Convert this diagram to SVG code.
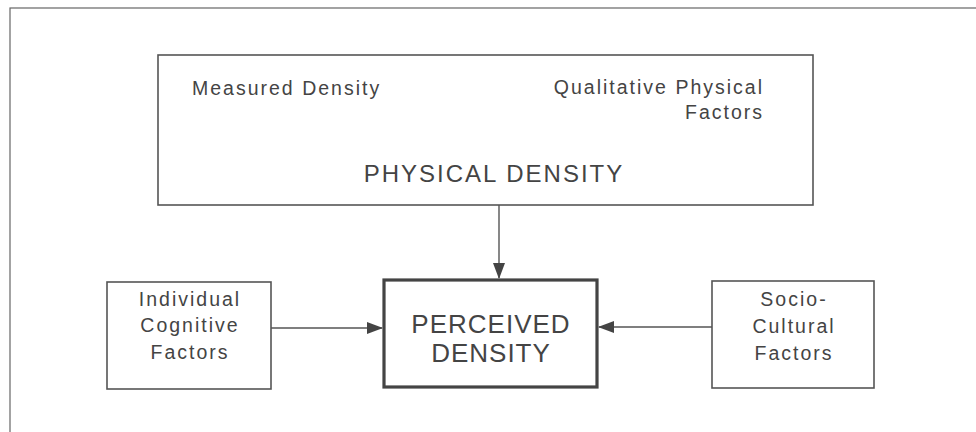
<svg xmlns="http://www.w3.org/2000/svg" width="976" height="432" viewBox="0 0 976 432">
<defs>
<style>
.box{fill:#fff;stroke:#555;stroke-width:1.6}
.bold{fill:#fff;stroke:#444;stroke-width:3.2}
.t{font-family:"Liberation Sans",Arial,sans-serif;fill:#444}
.s{font-size:19.5px;letter-spacing:2px}
.m{font-size:24px;letter-spacing:2px}
.l{font-size:26px;letter-spacing:1px}
.c{stroke:#555;stroke-width:1.4;fill:none}
</style>
<marker id="ah" markerWidth="16" markerHeight="12" refX="15" refY="6" orient="auto" markerUnits="userSpaceOnUse">
<path d="M0,0 L16,6 L0,12 Z" fill="#444"/>
</marker>
</defs>
<rect width="976" height="432" fill="#fff"/>
<rect x="10" y="8" width="1000" height="500" fill="none" stroke="#666" stroke-width="1.2"/>
<g id="physical">
<rect class="box" x="158" y="55" width="655" height="150"/>
<text class="t s" x="192" y="95">Measured Density</text>
<text class="t s" x="764" y="94" text-anchor="end">Qualitative Physical</text>
<text class="t s" x="764" y="119" text-anchor="end">Factors</text>
<text class="t m" x="494" y="182" text-anchor="middle">PHYSICAL DENSITY</text>
</g>
<g id="individual">
<rect class="box" x="107" y="282" width="164" height="107"/>
<text class="t s" x="190" y="306" text-anchor="middle">Individual</text>
<text class="t s" x="190" y="332" text-anchor="middle">Cognitive</text>
<text class="t s" x="190" y="359" text-anchor="middle">Factors</text>
</g>
<g id="perceived">
<rect class="bold" x="384" y="280" width="213" height="107"/>
<text class="t l" x="491" y="333" text-anchor="middle">PERCEIVED</text>
<text class="t l" x="491" y="362" text-anchor="middle">DENSITY</text>
</g>
<g id="socio">
<rect class="box" x="712" y="281" width="162" height="107"/>
<text class="t s" x="794" y="306" text-anchor="middle">Socio-</text>
<text class="t s" x="794" y="333" text-anchor="middle">Cultural</text>
<text class="t s" x="794" y="360" text-anchor="middle">Factors</text>
</g>
<g id="connectors">
<line class="c" x1="499" y1="205" x2="499" y2="278" marker-end="url(#ah)"/>
<line class="c" x1="271" y1="328" x2="382" y2="328" marker-end="url(#ah)"/>
<line class="c" x1="712" y1="327" x2="599" y2="327" marker-end="url(#ah)"/>
</g>
</svg>
